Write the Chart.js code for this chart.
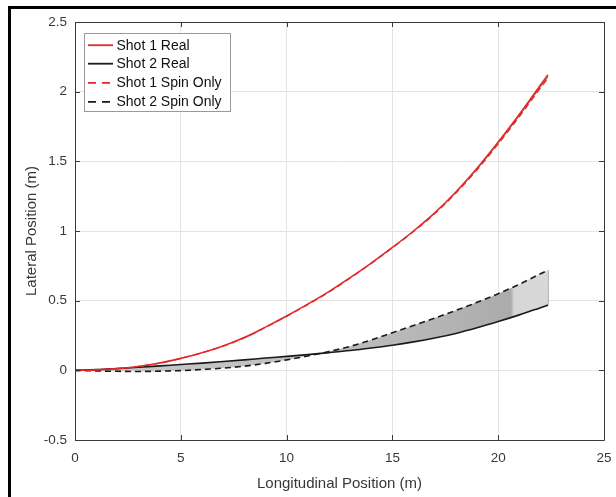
<!DOCTYPE html>
<html>
<head>
<meta charset="utf-8">
<script src="https://cdn.jsdelivr.net/npm/chart.js@4.4.0/dist/chart.umd.min.js"></script>
<style>
  html, body { margin: 0; padding: 0; background: #fff; }
  #wrap { position: relative; width: 616px; height: 497px; overflow: hidden; }
  #frame { position: absolute; left: 8px; top: 6px; right: -10px; bottom: -10px;
           border-top: 3px solid #000; border-left: 3px solid #000; pointer-events: none; }
  canvas { position: absolute; left: 0; top: 0; }
</style>
</head>
<body>
<div id="wrap">
  <canvas id="c" width="616" height="497"></canvas>
  <div id="frame"></div>
</div>
<script>
// ---- Data ----
const xPos = [0,1,2,3,4,5,6,7,8,9,10,11,12,13,14,15,16,17,18,19,20,21,22,22.35];
const shot1Real = [0,0.003,0.012,0.028,0.052,0.086,0.126,0.175,0.235,0.31,0.39,0.475,0.565,0.665,0.77,0.882,1.0,1.13,1.28,1.45,1.638,1.838,2.048,2.122];
const shot2Real = [0,0.005,0.013,0.022,0.032,0.042,0.052,0.063,0.075,0.088,0.1,0.113,0.127,0.142,0.16,0.18,0.204,0.232,0.265,0.305,0.35,0.398,0.45,0.468];
const shot1Spin = [0,0.003,0.012,0.028,0.052,0.086,0.126,0.174,0.233,0.308,0.388,0.472,0.562,0.662,0.768,0.88,0.996,1.125,1.272,1.44,1.625,1.822,2.028,2.098];
const shot2Spin = [0,-0.004,-0.007,-0.008,-0.006,-0.002,0.006,0.016,0.03,0.05,0.075,0.103,0.135,0.172,0.218,0.27,0.322,0.375,0.43,0.488,0.55,0.618,0.693,0.718];
const seriesLabels = ['Shot 1 Real','Shot 2 Real','Shot 1 Spin Only','Shot 2 Spin Only'];
const xTickValues = [0,5,10,15,20,25];
const yTickValues = [-0.5,0,0.5,1,1.5,2,2.5];
const xTitle = 'Longitudinal Position (m)';
const yTitle = 'Lateral Position (m)';

const pts = (ys) => ys.map((y, i) => ({x: xPos[i], y}));
const lastI = xPos.length - 1;

const RED = '#e02a2a';
const BLK = '#1a1a1a';
const AXC = '#3a3a3a';
const TXT = '#383838';
const FONT = "'Liberation Sans', Arial, Helvetica, sans-serif";

function shot2Fill(context) {
  const chart = context.chart;
  const area = chart.chartArea;
  if (!area) return 'rgba(180,180,180,0.8)';
  const xs = chart.scales.x;
  const x0 = xs.getPixelForValue(0), x1 = xs.getPixelForValue(25);
  const g = chart.ctx.createLinearGradient(x0, 0, x1, 0);
  const f = v => v / 25;
  g.addColorStop(0, '#c8c8c8');
  g.addColorStop(f(10), '#c2c2c2');
  g.addColorStop(f(17), '#b5b5b5');
  g.addColorStop(f(20.6), '#ababab');
  g.addColorStop(f(20.75), '#d6d6d6');
  g.addColorStop(1, '#dcdcdc');
  return g;
}

const boxPlugin = {
  id: 'boxPlugin',
  afterDraw(chart) {
    const {ctx, chartArea: a, scales: {x, y}} = chart;
    ctx.save();
    ctx.strokeStyle = AXC;
    ctx.lineWidth = 1;
    ctx.beginPath();
    ctx.rect(Math.round(a.left) + 0.5, Math.round(a.top) + 0.5,
             Math.round(a.right - a.left), Math.round(a.bottom - a.top));
    ctx.stroke();
    const tl = 5;
    ctx.beginPath();
    xTickValues.forEach(v => {
      const px = Math.round(x.getPixelForValue(v)) + 0.5;
      ctx.moveTo(px, a.bottom); ctx.lineTo(px, a.bottom - tl);
      ctx.moveTo(px, a.top); ctx.lineTo(px, a.top + tl);
    });
    yTickValues.forEach(v => {
      const py = Math.round(y.getPixelForValue(v)) + 0.5;
      ctx.moveTo(a.left, py); ctx.lineTo(a.left + tl, py);
      ctx.moveTo(a.right, py); ctx.lineTo(a.right - tl, py);
    });
    ctx.stroke();

    // legend
    const bx = Math.round(a.left) + 9.5, by = Math.round(a.top) + 11.5;
    const bw = 146, bh = 78;
    ctx.fillStyle = '#fff';
    ctx.fillRect(bx, by, bw, bh);
    ctx.strokeStyle = '#9a9a9a';
    ctx.lineWidth = 1;
    ctx.strokeRect(bx, by, bw, bh);
    ctx.font = '14px ' + FONT;
    ctx.textBaseline = 'middle';
    ctx.textAlign = 'left';
    const rows = [11.7, 30.2, 49.4, 68.4];
    chart.data.datasets.slice(0, 4).forEach((ds, i) => {
      const ry = by + rows[i];
      ctx.strokeStyle = ds.borderColor;
      ctx.lineWidth = 1.8;
      ctx.setLineDash(ds.borderDash && ds.borderDash.length ? [8, 6] : []);
      ctx.beginPath();
      ctx.moveTo(bx + 3.5, ry); ctx.lineTo(bx + 28.5, ry);
      ctx.stroke();
      ctx.setLineDash([]);
      ctx.fillStyle = '#111';
      ctx.fillText(ds.label, bx + 32, ry + 0.5);
    });
    ctx.restore();
  }
};

const setTicks = (vals) => (scale) => { scale.ticks = vals.map(v => ({value: v})); };

new Chart(document.getElementById('c'), {
  type: 'line',
  data: {
    datasets: [
      { label: seriesLabels[0], data: pts(shot1Real), borderColor: RED, borderWidth: 1.6, fill: false },
      { label: seriesLabels[1], data: pts(shot2Real), borderColor: BLK, borderWidth: 1.6, fill: false },
      { label: seriesLabels[2], data: pts(shot1Spin), borderColor: RED, borderWidth: 1.4, borderDash: [6, 4],
        fill: { target: 0 }, backgroundColor: 'rgba(40,40,40,0.55)' },
      { label: seriesLabels[3], data: pts(shot2Spin), borderColor: BLK, borderWidth: 1.6, borderDash: [6, 4],
        fill: { target: 1 }, backgroundColor: shot2Fill },
      { label: 'edge', data: [{x: xPos[lastI], y: shot2Real[lastI]}, {x: xPos[lastI], y: shot2Spin[lastI]}],
        borderColor: '#555', borderWidth: 1, fill: false }
    ]
  },
  options: {
    responsive: false,
    animation: false,
    elements: { point: { radius: 0, hoverRadius: 0 }, line: { tension: 0, cubicInterpolationMode: 'monotone' } },
    layout: { padding: { top: 22, right: 12, left: 0, bottom: 0 } },
    plugins: { legend: { display: false }, tooltip: { enabled: false } },
    scales: {
      x: {
        type: 'linear', min: 0, max: 25,
        afterBuildTicks: setTicks(xTickValues),
        afterFit: (s) => { s.height = 57; s.paddingLeft = 0; s.paddingRight = 0; },
        grid: { color: '#e4e4e4', drawTicks: false, lineWidth: 1 },
        border: { display: false },
        ticks: { padding: 10, color: TXT, font: { family: FONT, size: 13.5 }, maxRotation: 0,
                 callback: (v) => String(v) },
        title: { display: true, text: xTitle, color: TXT, font: { family: FONT, size: 15 },
                 padding: { top: 0, bottom: 4 } }
      },
      y: {
        type: 'linear', min: -0.5, max: 2.5,
        afterBuildTicks: setTicks(yTickValues),
        afterFit: (s) => { s.width = 75; s.paddingTop = 0; s.paddingBottom = 0; },
        grid: { color: '#e4e4e4', drawTicks: false, lineWidth: 1 },
        border: { display: false },
        ticks: { padding: 8, color: TXT, font: { family: FONT, size: 13.5 },
                 callback: (v) => String(v) },
        title: { display: true, text: yTitle, color: TXT, font: { family: FONT, size: 15 },
                 padding: { top: 23, bottom: 0 } }
      }
    }
  },
  plugins: [boxPlugin]
});
</script>
</body>
</html>
